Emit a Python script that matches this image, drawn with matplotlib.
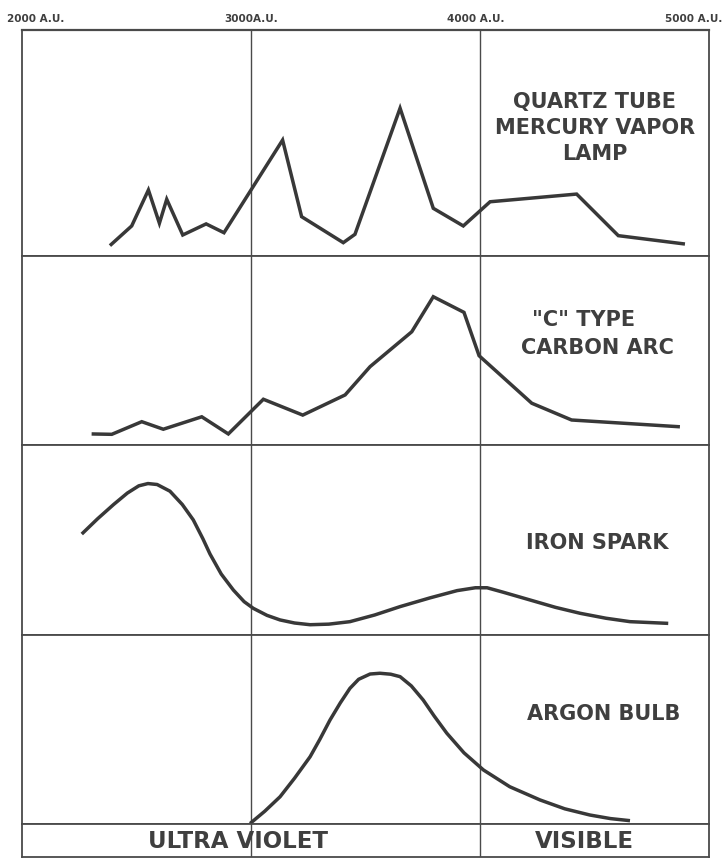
import matplotlib
matplotlib.use("Agg")
import matplotlib.pyplot as plt
from matplotlib.transforms import offset_copy, blended_transform_factory

# ---------------- data (wavelength in A.U., relative intensity 0-100 of panel) -------------
mercury_wl = [2384, 2479, 2552, 2600, 2632, 2702, 2804, 2882, 3138, 3221, 3403, 3454,
              3651, 3796, 3927, 4044, 4422, 4604, 4895]
mercury_val = [4.6, 13.3, 29.2, 14.5, 25.1, 9.3, 14.2, 10.3, 51.3, 17.4, 5.9, 9.6,
               65.4, 21.1, 13.3, 24.0, 27.4, 9.0, 5.3]

carbon_wl = [2304, 2392, 2523, 2617, 2785, 2901, 3054, 3226, 3411, 3520, 3702, 3796,
             3930, 3996, 4226, 4400, 4873]
carbon_val = [5.6, 5.4, 12.1, 8.1, 14.7, 5.6, 24.0, 15.6, 26.3, 41.3, 59.8, 78.4,
              70.1, 47.1, 21.9, 13.0, 9.4]

iron_wl = [2261, 2330, 2400, 2460, 2510, 2550, 2590, 2646, 2700, 2748, 2790, 2821, 2870,
           2923, 2970, 3010, 3070, 3127, 3190, 3258, 3340, 3432, 3540, 3651, 3782, 3900,
           3980, 4031, 4100, 4218, 4330, 4437, 4550, 4655, 4822]
iron_val = [53.0, 61.0, 68.5, 74.5, 78.3, 79.5, 79.0, 75.5, 68.5, 60.4, 50.5, 42.5, 32.0,
            23.6, 17.5, 14.0, 10.3, 7.9, 6.3, 5.4, 5.7, 7.0, 10.5, 14.9, 19.5, 23.3,
            24.8, 24.8, 22.5, 18.4, 14.5, 11.4, 8.8, 7.0, 6.1]

argon_wl = [2996, 3060, 3127, 3190, 3258, 3300, 3345, 3390, 3432, 3470, 3520, 3563, 3610,
            3651, 3700, 3752, 3800, 3855, 3930, 4015, 4130, 4262, 4370, 4480, 4570, 4655]
argon_val = [0.0, 6.5, 14.2, 24.0, 35.4, 44.5, 54.9, 64.0, 71.7, 76.5, 79.3, 79.7, 79.2,
             77.9, 73.0, 65.5, 57.0, 47.9, 37.5, 28.4, 19.5, 12.5, 7.8, 4.5, 2.6, 1.5]

panel_labels = ["QUARTZ TUBE\nMERCURY VAPOR\nLAMP", '"C" TYPE\nCARBON ARC', "IRON SPARK",
                "ARGON BULB"]
tick_values = [2000, 3000, 4000, 5000]
tick_labels = ["2000 A.U.", "3000A.U.", "4000 A.U.", "5000 A.U."]
region_labels = ["ULTRA VIOLET", "VISIBLE"]
region_centers = [2943, 4454]

# ---------------- styling -------------
W, H = 725, 860
LINE = "#383838"
TEXT = "#3f3f3f"
FRAME = "#4a4a4a"
FONT = "DejaVu Sans"

fig = plt.figure(figsize=(W / 100, H / 100), dpi=100)
fig.patch.set_facecolor("white")

left_px, right_px = 22, 709
bounds = [30, 256, 444.5, 635, 823.5, 857]  # pixel y boundaries top->bottom


def make_ax(top, bottom):
    ax = fig.add_axes([left_px / W, (H - bottom) / H, (right_px - left_px) / W,
                       (bottom - top) / H])
    ax.set_xlim(2000, 5000)
    ax.set_xticks([])
    ax.set_yticks([])
    for s in ax.spines.values():
        s.set_color(FRAME)
        s.set_linewidth(1.3)
    ax.axvline(3000, color=FRAME, lw=1.0, zorder=1)
    ax.axvline(4000, color=FRAME, lw=1.0, zorder=1)
    return ax


axes = [make_ax(bounds[i], bounds[i + 1]) for i in range(5)]
series = [(mercury_wl, mercury_val, "miter"), (carbon_wl, carbon_val, "miter"),
          (iron_wl, iron_val, "round"), (argon_wl, argon_val, "round")]

for ax, (xs, ys, js) in zip(axes[:4], series):
    ax.set_ylim(0, 100)
    ax.plot(xs, ys, color=LINE, lw=2.5, solid_joinstyle=js, solid_capstyle="butt",
            zorder=3, clip_on=False)

axes[0].spines["top"].set_linewidth(1.6)

txt_kw = dict(color=TEXT, fontsize=15, fontweight="bold", family=FONT,
              ha="center", va="center")
axes[0].text(4502, 56.6, panel_labels[0], linespacing=1.35, **txt_kw)
c_type, c_arc = panel_labels[1].split("\n")
axes[1].text(4454, 66.0, c_type, **txt_kw)
axes[1].text(4511, 51.2, c_arc, **txt_kw)
axes[2].text(4510, 48.5, panel_labels[2], **txt_kw)
axes[3].text(4540, 58.1, panel_labels[3], **txt_kw)

# bottom region strip
axes[4].set_ylim(0, 1)
strip_kw = dict(txt_kw, fontsize=16.5)
for lab, cx in zip(region_labels, region_centers):
    axes[4].text(cx, 0.47, lab, **strip_kw)

# top tick labels
ax0 = axes[0]
trans = blended_transform_factory(ax0.transData, ax0.transAxes)
for v, lab in zip(tick_values, tick_labels):
    if v == 2000:
        t, ha = offset_copy(trans, fig=fig, x=-15, y=0, units="dots"), "left"
    elif v == 5000:
        t, ha = offset_copy(trans, fig=fig, x=13, y=0, units="dots"), "right"
    elif v == 4000:
        t, ha = offset_copy(trans, fig=fig, x=-4, y=0, units="dots"), "center"
    else:
        t, ha = trans, "center"
    ax0.text(v, 1.0 + 11 / 226, lab, transform=t, ha=ha, va="center",
             fontsize=7.5, fontweight="bold", color=TEXT, family=FONT)

fig.savefig("out.png", dpi=100, facecolor="white")
